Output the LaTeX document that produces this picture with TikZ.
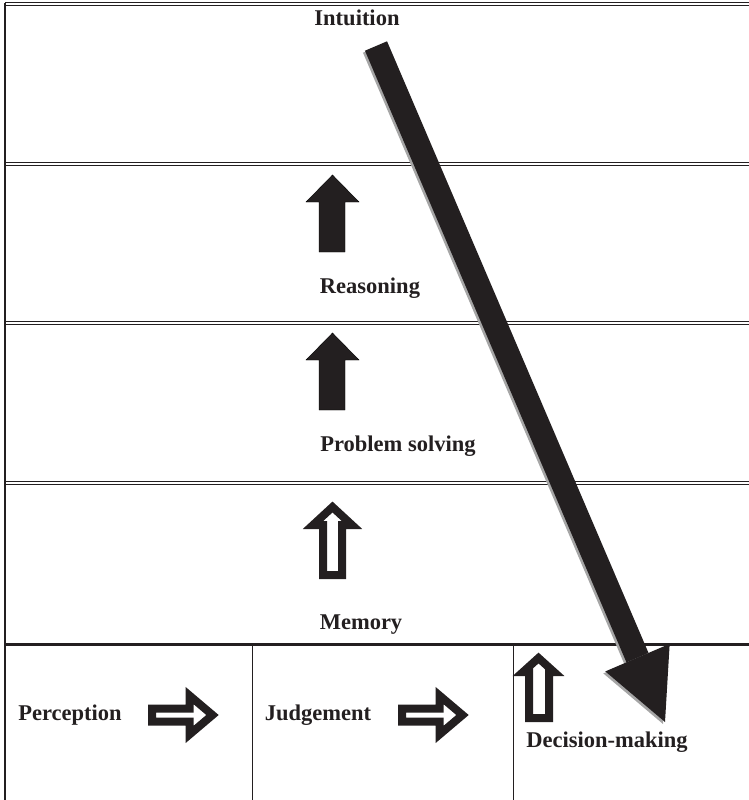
\documentclass[tikz,border=0pt]{standalone}
\usepackage{fontspec}
\setmainfont{Liberation Serif}
\usetikzlibrary{arrows.meta}
\definecolor{myblack}{RGB}{35,31,32}
\definecolor{myshadow}{RGB}{165,165,165}

\begin{document}
\begin{tikzpicture}[x=1pt, y=-1pt,
	label/.style={font=\bfseries\fontsize{22.5}{27}\selectfont, text=myblack, inner sep=0pt},
	rule/.style={draw=myblack, line width=1pt},
	solidarrow/.style={fill=myblack},
	hollowarrow/.style={draw=myblack, fill=white, line width=8pt, line join=miter}]
	\useasboundingbox (0,0) rectangle (749,800);

	% table rules
	\draw[rule] (5,3) to (749,3);
	\draw[rule] (5,6) to (749,6);
	\draw[rule] (5,162) to (749,162);
	\draw[rule] (5,165) to (749,165);
	\draw[rule] (5,321) to (749,321);
	\draw[rule] (5,324) to (749,324);
	\draw[rule] (5,481) to (749,481);
	\draw[rule] (5,484) to (749,484);
	\draw[draw=myblack, line width=3pt] (5,644) to (749,644);
	\draw[rule, line width=1.3pt] (5,3) to (5,800);
	\draw[rule] (252,644) to (252,800);
	\draw[rule] (513,644) to (513,800);

	% labels
	\node[label] (intuition) at (357,18) {Intuition};
	\node[label] (reasoning) at (370,288) {Reasoning};
	\node[label] (problem) at (398,446) {Problem solving};
	\node[label] (memory) at (361,625) {Memory};
	\node[label] (perception) at (70,715) {Perception};
	\node[label] (judgement) at (318,715) {Judgement};
	\node[label] (decision) at (607,742) {Decision-making};

	% upward arrows
	\draw[solidarrow] (319,252) -- (319,202) -- (306,202) -- (332.5,175) -- (359,202) -- (345,202) -- (345,252) -- cycle;
	\draw[solidarrow] (319,410) -- (319,360) -- (306,360) -- (332.5,333) -- (359,360) -- (345,360) -- (345,410) -- cycle;
	\draw[hollowarrow] (323,575) -- (323,525) -- (313,525) -- (332.5,507) -- (352,525) -- (342,525) -- (342,575) -- cycle;
	\draw[hollowarrow] (529,718) -- (529,672) -- (523,672) -- (538.5,658) -- (554,672) -- (549,672) -- (549,718) -- cycle;

	% sideways arrows
	\draw[hollowarrow] (152,708.5) -- (189.5,708.5) -- (189.5,695.5) -- (212.5,715) -- (189.5,734.5) -- (189.5,721.5) -- (152,721.5) -- cycle;
	\draw[hollowarrow] (402,708.5) -- (439.5,708.5) -- (439.5,695.5) -- (462.5,715) -- (439.5,734.5) -- (439.5,721.5) -- (402,721.5) -- cycle;

	% intuition to decision-making
	\coordinate (diagstart) at (376,46);
	\coordinate (diagend) at (665,722);
	\draw[myshadow, line width=24pt, -{Triangle[width=70pt, length=70pt, line width=0pt]}] ([shift={(-2,2)}]diagstart) -- ([shift={(-2,2)}]diagend);
	\draw[myblack, line width=24pt, -{Triangle[width=70pt, length=70pt, line width=0pt]}] (diagstart) -- (diagend);
\end{tikzpicture}
\end{document}
